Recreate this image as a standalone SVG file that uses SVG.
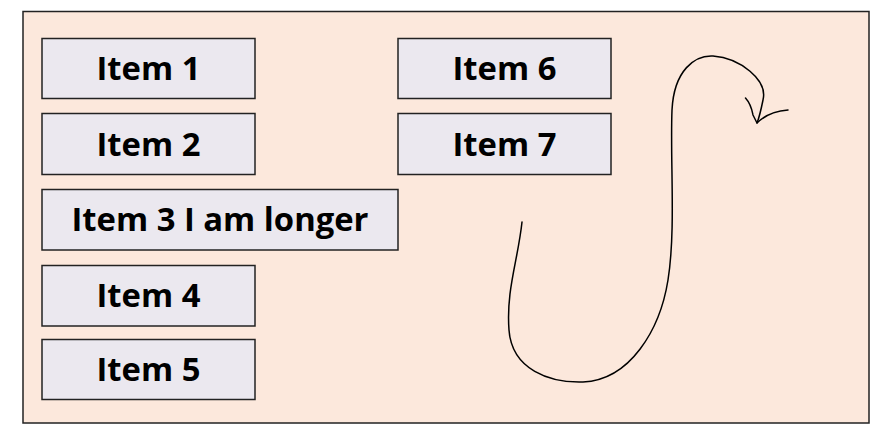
<svg xmlns="http://www.w3.org/2000/svg" width="893" height="442" viewBox="0 0 893 442">
<style>
.box{fill:#ebe8ef;stroke:#222;stroke-width:1.5}
.lbl{font-family:"Open Sans","Liberation Sans",sans-serif;font-weight:bold;font-size:32.8px;fill:#000;text-anchor:middle;dominant-baseline:central}
.conn{fill:none;stroke:#000;stroke-width:1.5;stroke-linecap:round;stroke-linejoin:round}
</style>
<rect id="frame" x="23" y="11.5" width="846" height="411.5" fill="#fce8dc" stroke="#222" stroke-width="1.5"/>
<g id="item1"><rect class="box" x="42" y="38.5" width="213" height="60"/><text class="lbl" x="148.5" y="67.5">Item 1</text></g>
<g id="item2"><rect class="box" x="42" y="113.5" width="213" height="61"/><text class="lbl" x="148.5" y="143">Item 2</text></g>
<g id="item3"><rect class="box" x="42" y="189.5" width="356" height="60.5"/><text class="lbl" x="220" y="218.5">Item 3 I am longer</text></g>
<g id="item4"><rect class="box" x="42" y="265.5" width="213" height="60.5"/><text class="lbl" x="148.5" y="294.5">Item 4</text></g>
<g id="item5"><rect class="box" x="42" y="339.5" width="213" height="60"/><text class="lbl" x="148.5" y="368.5">Item 5</text></g>
<g id="item6"><rect class="box" x="398" y="38.5" width="213" height="60"/><text class="lbl" x="504.5" y="67.5">Item 6</text></g>
<g id="item7"><rect class="box" x="398" y="113.5" width="213" height="61"/><text class="lbl" x="504.5" y="143">Item 7</text></g>
<g id="connectors">
<path class="conn" d="M522,222 C518,260 506,290 509,330 C512,370 550,383 583,382 C630,380 660,330 668,280 C676,230 670,160 672,110 C674,70 695,55 713,56 C740,58 768,80 763,100 C761,110 759,118 757,123"/>
<path class="conn" d="M745.5,98 C751,104 752,110 753,115 L757,123 C765,115 775,111 788,110"/>
</g>
</svg>
